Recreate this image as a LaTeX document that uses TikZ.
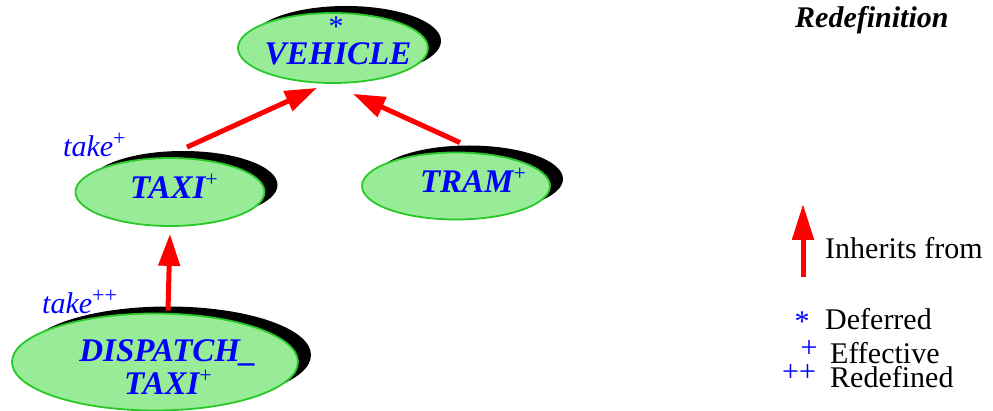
\documentclass[tikz,border=0pt]{standalone}
\usepackage{fontspec}
\setmainfont{Liberation Serif}
\usetikzlibrary{arrows.meta, positioning, shapes.geometric, shadows}
\definecolor{classfill}{RGB}{152,236,152}
\definecolor{classdraw}{RGB}{40,200,40}
\definecolor{featblue}{RGB}{0,0,255}
\newcommand{\upmark}[2][12pt]{{\fontsize{22}{22}\selectfont\upshape\mdseries\raisebox{#1}{#2}}}

\begin{document}
\begin{tikzpicture}[
    x=1pt, y=-1pt,
    class/.style={ellipse, draw=classdraw, line width=1.8pt, fill=classfill, inner sep=0pt,
      drop shadow={shadow xshift=13pt, shadow yshift=7pt, fill=black, opacity=1}},
    classname/.style={inner sep=0pt, text=featblue, align=center,
      font=\fontsize{33}{33}\selectfont\bfseries\itshape},
    featmark/.style={inner sep=0pt, text=featblue, font=\fontsize{30}{30}\selectfont},
    legend/.style={inner sep=0pt, anchor=base west, font=\fontsize{30}{30}\selectfont},
    inherit/.style={-{Triangle[length=32pt, width=21pt]}, line width=5pt, red}
  ]
  \useasboundingbox (0,0) rectangle (993,411);

  % classes
  \node[class, minimum width=190pt, minimum height=70pt] (vehicle) at (333,48) {};
  \node[class, minimum width=189pt, minimum height=68pt] (taxi) at (170,192) {};
  \node[class, minimum width=188pt, minimum height=67pt] (tram) at (456,186) {};
  \node[class, minimum width=286pt, minimum height=97pt] (dispatch) at (155,362) {};

  \node[classname, anchor=base] (vehiclename) at (338,65) {VEHICLE};
  \node[featmark, anchor=base] (vehiclestar) at (336,37) {*};
  \node[classname, anchor=base] (taxiname) at (174,199) {TAXI\upmark{+}};
  \node[classname, anchor=base] (tramname) at (473,193) {TRAM\upmark{+}};
  \node[classname] (dispatchname) at (168,367) {DISPATCH\_\\TAXI\upmark{+}};

  % features
  \node[featmark, anchor=base west, font=\fontsize{30}{30}\selectfont\itshape] (taketaxi) at (63,157) {take\upmark[11pt]{+}};
  \node[featmark, anchor=base west, font=\fontsize{30}{30}\selectfont\itshape] (takedispatch) at (42,314) {take\upmark[11pt]{++}};

  % inheritance
  \draw[inherit] ([xshift=17pt, yshift=10pt]taxi.north) -- ([xshift=-16pt, yshift=-4pt]vehicle.south);
  \draw[inherit] ([xshift=4pt, yshift=9pt]tram.north) -- ([xshift=20pt, yshift=-10pt]vehicle.south);
  \draw[inherit] ([xshift=13pt, yshift=2pt]dispatch.north) -- ([yshift=-7pt]taxi.south);

  % legend
  \node[legend, font=\fontsize{30}{30}\selectfont\bfseries\itshape] (legendtitle) at (795,28) {Redefinition};
  \coordinate (inhbottom) at (803,277);
  \coordinate (inhtop) at (803,204);
  \draw[inherit, -{Triangle[length=36pt, width=21pt]}] (inhbottom) -- (inhtop);
  \node[legend] (inhtext) at (825,259) {Inherits from};
  \node[legend] (deftext) at (825,330) {Deferred};
  \node[featmark, anchor=base] (defmark) at (802,332) {*};
  \node[legend] (efftext) at (830,363) {Effective};
  \node[featmark] (effmark) at (809,349) {+};
  \node[legend] (redtext) at (830,388) {Redefined};
  \node[featmark] (redmark) at (799,373) {++};

\end{tikzpicture}
\end{document}
